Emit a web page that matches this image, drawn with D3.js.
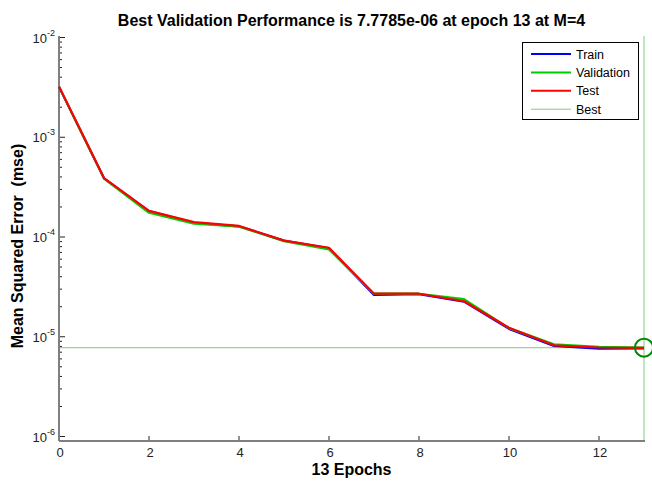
<!DOCTYPE html>
<html>
<head>
<meta charset="utf-8">
<script src="https://cdn.jsdelivr.net/npm/d3@7"></script>
<style>
  html, body { margin: 0; padding: 0; background: #fff; }
  svg { display: block; font-family: Arial, "Liberation Sans", sans-serif; }
</style>
</head>
<body>
<svg id="chart" width="652" height="485"></svg>
<script>
// Training record: mean squared error per epoch
const epochs = [0, 1, 2, 3, 4, 5, 6, 7, 8, 9, 10, 11, 12, 13];
const trainPerf = [3.20e-3, 3.88e-4, 1.82e-4, 1.39e-4, 1.28e-4, 9.2e-5, 7.7e-5, 2.62e-5, 2.68e-5, 2.25e-5, 1.20e-5, 8.1e-6, 7.6e-6, 7.65e-6];
const valPerf   = [3.20e-3, 3.85e-4, 1.75e-4, 1.36e-4, 1.27e-4, 9.1e-5, 7.5e-5, 2.70e-5, 2.70e-5, 2.38e-5, 1.22e-5, 8.4e-6, 7.9e-6, 7.7785e-6];
const testPerf  = [3.22e-3, 3.90e-4, 1.83e-4, 1.41e-4, 1.29e-4, 9.2e-5, 7.8e-5, 2.70e-5, 2.70e-5, 2.27e-5, 1.23e-5, 8.2e-6, 7.8e-6, 7.75e-6];
const bestEpoch = 13;
const bestPerf = 7.7785e-6;
const xTicks = [0, 2, 4, 6, 8, 10, 12];
const yExponents = [-2, -3, -4, -5, -6];
const legendNames = ["Train", "Validation", "Test", "Best"];

const svg = d3.select("#chart");
const plotLeft = 59, plotRight = 644, plotTop = 36, plotBottom = 441;

const x = d3.scaleLinear().domain([0, 13]).range([plotLeft, plotRight]);
const y = d3.scaleLog().domain([1e-6, 1e-2]).range([436.5, 37.5]);

const axisColor = "#7f7f7f";

// best-epoch guide lines
svg.append("line")
  .attr("x1", plotLeft).attr("x2", plotRight)
  .attr("y1", y(bestPerf)).attr("y2", y(bestPerf))
  .attr("stroke", "#94d694").attr("stroke-width", 1.2);
svg.append("line")
  .attr("x1", x(bestEpoch)).attr("x2", x(bestEpoch))
  .attr("y1", plotTop).attr("y2", plotBottom)
  .attr("stroke", "#94d694").attr("stroke-width", 1.2);

// y ticks: majors at each decade, minors 2..9
const yg = svg.append("g");
const minorTicks = [];
for (let e = -6; e < -2; e++) {
  for (let m = 2; m <= 9; m++) minorTicks.push(m * Math.pow(10, e));
}
yg.selectAll(".ymin").data(minorTicks).join("line")
  .attr("x1", plotLeft).attr("x2", plotLeft + 3)
  .attr("y1", d => y(d)).attr("y2", d => y(d))
  .attr("stroke", "#222").attr("stroke-width", 1);
yg.selectAll(".ymaj").data(yExponents).join("line")
  .attr("x1", plotLeft).attr("x2", plotLeft + 6)
  .attr("y1", d => y(Math.pow(10, d))).attr("y2", d => y(Math.pow(10, d)))
  .attr("stroke", "#222").attr("stroke-width", 1);
const ylab = yg.selectAll(".ylab").data(yExponents).join("text")
  .attr("x", 55).attr("y", d => y(Math.pow(10, d)) + 5)
  .attr("text-anchor", "end")
  .attr("font-size", 13).attr("fill", "#222");
ylab.append("tspan").text("10");
ylab.append("tspan").attr("dy", -7).attr("font-size", 9).text(d => String(d));

// x ticks
svg.selectAll(".xt").data(xTicks).join("line")
  .attr("x1", d => x(d)).attr("x2", d => x(d))
  .attr("y1", plotBottom).attr("y2", plotBottom - 5)
  .attr("stroke", "#222").attr("stroke-width", 1);
svg.selectAll(".xl").data(xTicks).join("text")
  .attr("x", d => x(d) + 1).attr("y", 457)
  .attr("text-anchor", "middle")
  .attr("font-size", 13).attr("fill", "#222")
  .text(d => d);

// axis lines
svg.append("line").attr("x1", plotLeft).attr("x2", plotLeft).attr("y1", plotTop).attr("y2", plotBottom)
  .attr("stroke", axisColor).attr("stroke-width", 2);
svg.append("line").attr("x1", plotLeft).attr("x2", plotRight + 1).attr("y1", plotBottom).attr("y2", plotBottom)
  .attr("stroke", axisColor).attr("stroke-width", 2);

// performance curves
const line = d3.line().x((d, i) => x(epochs[i])).y(d => y(d));
const series = [
  { values: trainPerf, color: "#0000ff" },
  { values: valPerf, color: "#00cc00" },
  { values: testPerf, color: "#ff0000" }
];
svg.selectAll(".perf").data(series).join("path")
  .attr("d", d => line(d.values))
  .attr("fill", "none")
  .attr("stroke", d => d.color)
  .attr("stroke-width", 2.2)
  .attr("stroke-linejoin", "round");

// best marker
svg.append("circle")
  .attr("cx", x(bestEpoch)).attr("cy", y(bestPerf)).attr("r", 9)
  .attr("fill", "none").attr("stroke", "#008800").attr("stroke-width", 2);

// title and axis labels
svg.append("text").attr("x", (plotLeft + plotRight) / 2).attr("y", 26)
  .attr("text-anchor", "middle").attr("font-size", 16).attr("font-weight", "bold")
  .text("Best Validation Performance is 7.7785e-06 at epoch 13 at M=4");
svg.append("text").attr("x", (plotLeft + plotRight) / 2).attr("y", 475)
  .attr("text-anchor", "middle").attr("font-size", 16).attr("font-weight", "bold")
  .text("13 Epochs");
svg.append("text")
  .attr("transform", "translate(23,246) rotate(-90)")
  .attr("text-anchor", "middle").attr("font-size", 16).attr("font-weight", "bold")
  .style("white-space", "pre")
  .text("Mean Squared Error  (mse)");

// legend
const lg = svg.append("g");
lg.append("rect").attr("x", 522.5).attr("y", 42.5).attr("width", 116).attr("height", 77)
  .attr("fill", "#fff").attr("stroke", "#000").attr("stroke-width", 1);
const legendStyles = [
  { color: "#0000ff", w: 2 },
  { color: "#00cc00", w: 2 },
  { color: "#ff0000", w: 2 },
  { color: "#80cc80", w: 1 }
];
const rows = lg.selectAll(".row").data(legendNames).join("g")
  .attr("transform", (d, i) => "translate(0," + (54 + i * 18.4) + ")");
rows.append("line").attr("x1", 531).attr("x2", 571).attr("y1", 0).attr("y2", 0)
  .attr("stroke", (d, i) => legendStyles[i].color)
  .attr("stroke-width", (d, i) => legendStyles[i].w);
rows.append("text").attr("x", 576).attr("y", 4.5)
  .attr("font-size", 12.5).attr("fill", "#000")
  .text(d => d);
</script>
</body>
</html>
